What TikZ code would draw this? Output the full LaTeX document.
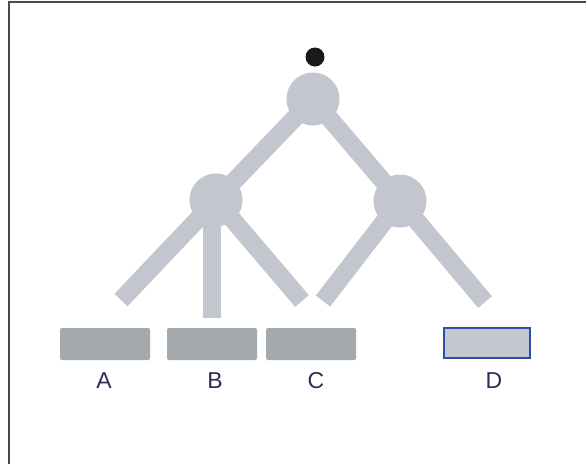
\documentclass[tikz,border=0pt]{standalone}
\usepackage{fontspec}
\setmainfont{Liberation Sans}
\definecolor{branch}{HTML}{C3C6CE}
\definecolor{leafgrey}{HTML}{A4A9AE}
\definecolor{leafD}{HTML}{C4C7CF}
\definecolor{borderD}{HTML}{2D4DB0}
\definecolor{labelc}{HTML}{35295A}
\definecolor{framec}{HTML}{4A4A4A}
\begin{document}
\begin{tikzpicture}[x=1pt,y=-1pt,
  treenode/.style={circle,fill=branch,minimum size=53pt,inner sep=0pt},
  branchline/.style={draw=branch,line width=18pt,line cap=butt},
  leafbox/.style={rectangle,rounded corners=2pt,fill=leafgrey,minimum width=90pt,minimum height=32pt,inner sep=0pt},
  leafsel/.style={rectangle,fill=leafD,draw=borderD,line width=2pt,minimum width=86pt,minimum height=30pt,inner sep=0pt},
  leaflabel/.style={text=labelc,font=\fontsize{23}{26}\selectfont,inner sep=0pt},
  rootdot/.style={circle,fill=black!90,minimum size=19pt,inner sep=0pt}]
\useasboundingbox (0,0) rectangle (586,464);
\fill[white] (0,0) rectangle (586,464);
% frame
\draw[framec,line width=2pt] (9,464) -- (9,2) -- (586,2);
% nodes
\node[treenode] (root) at (313,99) {};
\node[treenode] (left) at (216,200) {};
\node[treenode] (right) at (400,201) {};
\node[rootdot] (dot) at (315,57) {};
% free ends
\coordinate (ea) at (121,300);
\coordinate (eb) at (212,318);
\coordinate (ec) at (302,301);
\coordinate (ed) at (323,301);
\coordinate (ee) at (485,302);
% branches
\draw[branchline] (root.center) -- (left.center);
\draw[branchline] (root.center) -- (right.center);
\draw[branchline] (left.center) -- (ea);
\draw[branchline] (eb |- left.center) -- (eb);
\draw[branchline] (left.center) -- (ec);
\draw[branchline] (right.center) -- (ed);
\draw[branchline] (right.center) -- (ee);
% leaves
\node[leafbox] (boxA) at (105,344) {};
\node[leafbox] (boxB) at (212,344) {};
\node[leafbox] (boxC) at (311,344) {};
\node[leafsel] (boxD) at (486.5,342.5) {};
\node[leaflabel] (A) at (104,381) {A};
\node[leaflabel] (B) at (215,381) {B};
\node[leaflabel] (C) at (316,381) {C};
\node[leaflabel] (D) at (494,381) {D};
\end{tikzpicture}
\end{document}
